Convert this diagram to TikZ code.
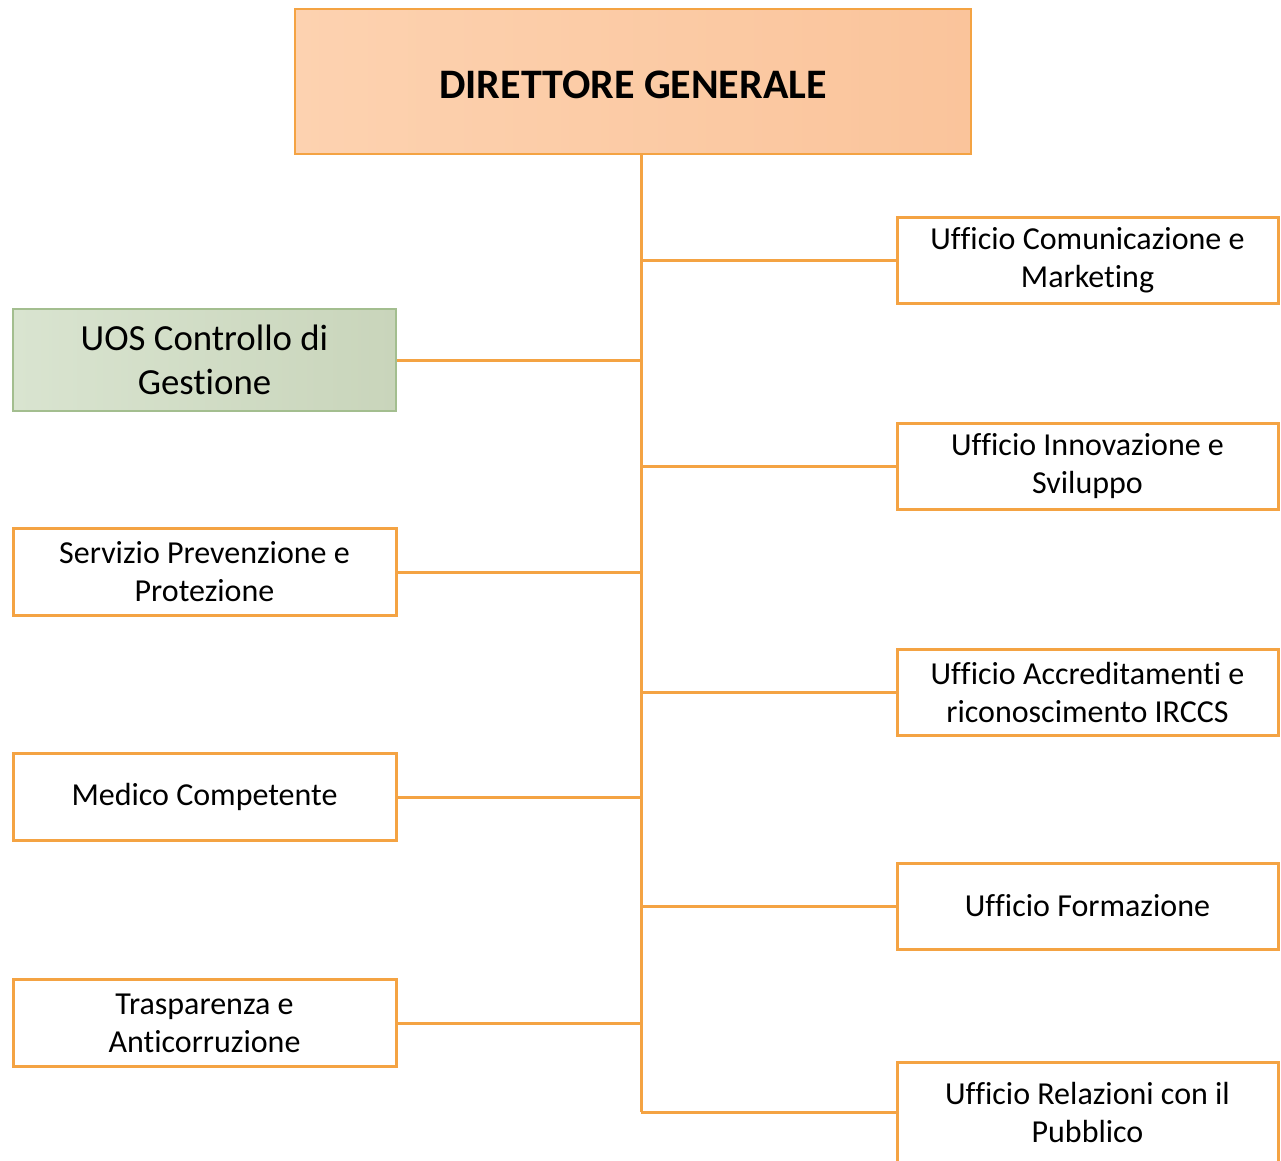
\documentclass[tikz,border=0pt]{standalone}
\usepackage{fontspec}
\setmainfont[Ligatures=NoCommon]{Carlito}
\newcommand{\brk}{\kern0pt{}}
\definecolor{orangeline}{HTML}{F4A343}
\definecolor{peachL}{HTML}{FDD2B0}
\definecolor{peachR}{HTML}{FAC49B}
\definecolor{greenL}{HTML}{D9E4D0}
\definecolor{greenR}{HTML}{C9D5BB}
\definecolor{greenline}{HTML}{A3BE8F}
\tikzset{
  orgbox/.style={draw=orangeline, line width=3pt, fill=white, align=center,
    inner sep=0pt, font=\fontsize{32}{38}\selectfont},
  rightbox/.style={orgbox, minimum width=381pt, minimum height=86pt},
  leftbox/.style={orgbox, minimum width=383pt, minimum height=87pt},
  link/.style={draw=orangeline, line width=3pt}
}
\begin{document}
\begin{tikzpicture}[x=1pt,y=-1pt]
\useasboundingbox (0,0) rectangle (1281,1160);
\clip (0,0) rectangle (1281,1160);
% top box
\node[draw=orangeline, line width=2.5pt, left color=peachL, right color=peachR,
  minimum width=676pt, minimum height=145pt, inner sep=0pt,
  font=\fontsize{42}{50}\selectfont\bfseries] (dg) at (633,81.5) {\raisebox{-3pt}[\height][0pt]{DIRETTORE GENERALE}};
% green box
\node[draw=greenline, line width=2.5pt, left color=greenL, right color=greenR,
  minimum width=383pt, minimum height=102pt, inner sep=0pt, align=center,
  font=\fontsize{36.8}{44}\selectfont] (uos) at (204.5,360) {UOS Controllo di\\Gest\brk ione};
% left boxes
\node[leftbox] (spp) at (204.5,572) {Servizio Prevenzione e\\Protezione};
\node[leftbox] (med) at (204.5,797) {Medico Competente};
\node[leftbox] (tra) at (204.5,1023) {Trasparenza e\\Ant\brk icorruzione};
% right boxes
\node[rightbox] (ucm) at (1087.5,260) {Uf\brk f\brk icio Comunicazione e\\Marketing};
\node[rightbox] (uis) at (1087.5,466) {Uf\brk f\brk icio Innovazione e\\Sviluppo};
\node[rightbox] (uac) at (1087.5,692) {Uf\brk f\brk icio Accreditament\brk i e\\riconoscimento IRCCS};
\node[rightbox] (ufo) at (1087.5,906) {Uf\brk f\brk icio Formazione};
\node[rightbox, minimum height=100pt] (urp) at (1087.5,1112) {Uf\brk f\brk icio Relazioni con il\\Pubblico};
% trunk
\coordinate (ttop) at (641,155);
\coordinate (tbot) at (641,1112);
\draw[link] (ttop) -- (tbot);
% branches
\foreach \n in {uos,spp,med,tra}{
  \draw[link] (\n.east) -- (\n.east -| ttop);
}
\foreach \n in {ucm,uis,uac,ufo,urp}{
  \draw[link] (\n.west) -- (\n.west -| ttop);
}
\end{tikzpicture}
\end{document}
